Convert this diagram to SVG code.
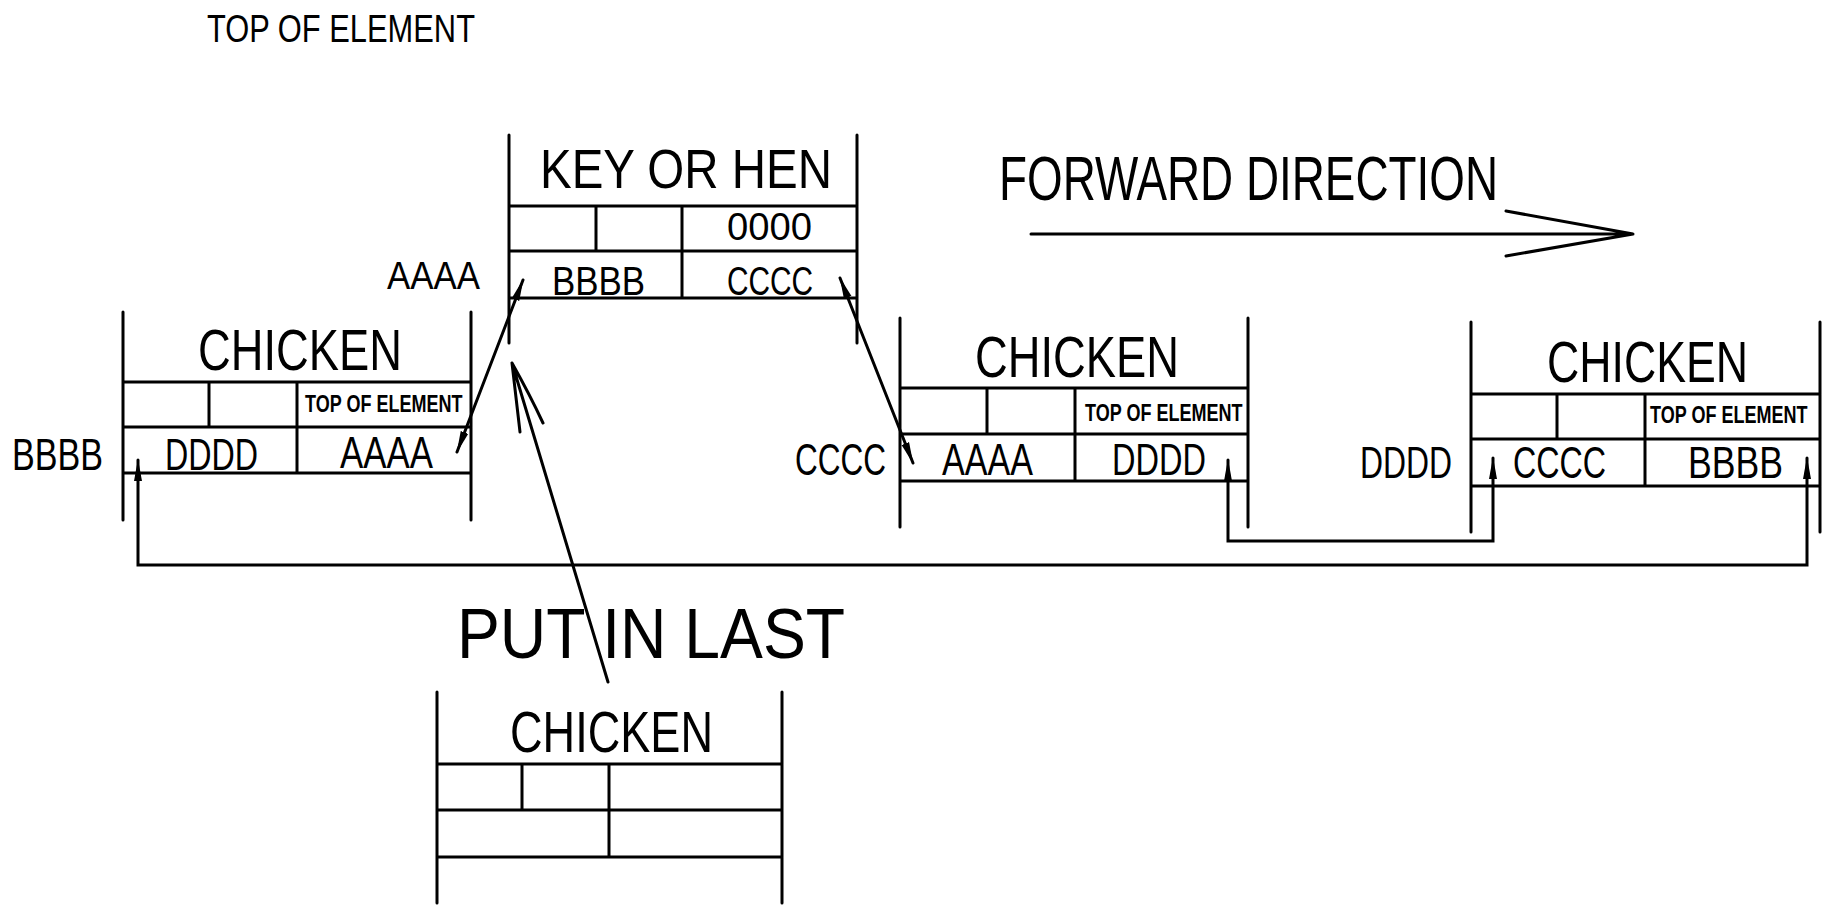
<svg xmlns="http://www.w3.org/2000/svg" width="1823" height="907" viewBox="0 0 1823 907">
<style>
  .ln { stroke:#000; stroke-width:3; fill:none; stroke-linecap:round; }
  .t { font-family:"Liberation Sans","DejaVu Sans",sans-serif; fill:#000; }
  .big { font-size:58px; }
  .mid { font-size:45px; }
  .sm { font-size:24px; font-weight:bold; }
</style>
<defs>
  <marker id="ah" viewBox="0 0 22 10" refX="21" refY="5" markerWidth="22" markerHeight="10" markerUnits="userSpaceOnUse" orient="auto-start-reverse">
    <path d="M0,1 L22,5 L0,9 Z" fill="#000"/>
  </marker>
</defs>
<rect width="1823" height="907" fill="#fff"/>

<g id="title">
  <text class="t" x="207" y="42" font-size="38" textLength="268" lengthAdjust="spacingAndGlyphs">TOP OF ELEMENT</text>
</g>

<g id="key-or-hen">
  <path class="ln" d="M509,135 V343 M857,135 V343 M509,206 H857 M509,251 H857 M509,298 H857 M596,206 V251 M682,206 V298"/>
  <text class="t" x="540" y="188" font-size="56" textLength="292" lengthAdjust="spacingAndGlyphs">KEY OR HEN</text>
  <text class="t" x="727" y="240" font-size="39" textLength="85" lengthAdjust="spacingAndGlyphs">0000</text>
  <text class="t" x="552" y="295" font-size="41" textLength="93" lengthAdjust="spacingAndGlyphs">BBBB</text>
  <text class="t" x="727" y="295" font-size="41" textLength="86" lengthAdjust="spacingAndGlyphs">CCCC</text>
  <text class="t" x="387" y="289" font-size="38" textLength="93" lengthAdjust="spacingAndGlyphs">AAAA</text>
</g>

<g id="chicken-1">
  <path class="ln" d="M123,312 V520 M471,312 V520 M123,382 H471 M123,427 H471 M123,473 H471 M209,382 V427 M297,382 V473"/>
  <text class="t big" x="198" y="370" textLength="204" lengthAdjust="spacingAndGlyphs">CHICKEN</text>
  <text class="t sm" transform="translate(305,412) scale(0.75,1)" textLength="210" lengthAdjust="spacingAndGlyphs">TOP OF ELEMENT</text>
  <text class="t mid" x="165" y="470" textLength="93" lengthAdjust="spacingAndGlyphs">DDDD</text>
  <text class="t mid" x="340" y="468" textLength="93" lengthAdjust="spacingAndGlyphs">AAAA</text>
  <text class="t mid" x="12" y="470" textLength="91" lengthAdjust="spacingAndGlyphs">BBBB</text>
</g>

<g id="chicken-2">
  <path class="ln" d="M900,318 V527 M1248,318 V527 M900,388 H1248 M900,434 H1248 M900,481 H1248 M987,388 V434 M1075,388 V481"/>
  <text class="t big" x="975" y="377" textLength="204" lengthAdjust="spacingAndGlyphs">CHICKEN</text>
  <text class="t sm" transform="translate(1085,421) scale(0.75,1)" textLength="210" lengthAdjust="spacingAndGlyphs">TOP OF ELEMENT</text>
  <text class="t mid" x="942" y="475" textLength="91" lengthAdjust="spacingAndGlyphs">AAAA</text>
  <text class="t mid" x="1112" y="475" textLength="94" lengthAdjust="spacingAndGlyphs">DDDD</text>
  <text class="t mid" x="795" y="475" textLength="91" lengthAdjust="spacingAndGlyphs">CCCC</text>
</g>

<g id="chicken-3">
  <path class="ln" d="M1471,322 V532 M1820,322 V532 M1471,394 H1820 M1471,439 H1820 M1471,486 H1820 M1557,394 V439 M1645,394 V486"/>
  <text class="t big" x="1547" y="382" textLength="201" lengthAdjust="spacingAndGlyphs">CHICKEN</text>
  <text class="t sm" transform="translate(1650,423) scale(0.75,1)" textLength="210" lengthAdjust="spacingAndGlyphs">TOP OF ELEMENT</text>
  <text class="t mid" x="1513" y="478" textLength="93" lengthAdjust="spacingAndGlyphs">CCCC</text>
  <text class="t mid" x="1688" y="478" textLength="95" lengthAdjust="spacingAndGlyphs">BBBB</text>
  <text class="t mid" x="1360" y="478" textLength="92" lengthAdjust="spacingAndGlyphs">DDDD</text>
</g>

<g id="chicken-new">
  <path class="ln" d="M437,692 V903 M782,692 V903 M437,764 H782 M437,810 H782 M437,857 H782 M522,764 V810 M609,764 V857"/>
  <text class="t big" x="510" y="752" textLength="203" lengthAdjust="spacingAndGlyphs">CHICKEN</text>
</g>

<g id="labels">
  <text class="t" x="999" y="200" font-size="63" textLength="499" lengthAdjust="spacingAndGlyphs">FORWARD DIRECTION</text>
  <text class="t" x="457" y="658" font-size="70" textLength="388" lengthAdjust="spacingAndGlyphs">PUT IN LAST</text>
</g>

<g id="connectors">
  <path class="ln" d="M457,452 L523,280" marker-start="url(#ah)" marker-end="url(#ah)"/>
  <path class="ln" d="M840,278 L913,463" marker-start="url(#ah)" marker-end="url(#ah)"/>
  <path class="ln" d="M138,460 V565 H1807 V458" marker-start="url(#ah)" marker-end="url(#ah)"/>
  <path class="ln" d="M1228,460 V541 H1493 V458" marker-start="url(#ah)" marker-end="url(#ah)"/>
  <path class="ln" d="M608,682 L512,363 M512,363 L520,432 M512,363 Q530,395 543,423"/>
  <path class="ln" d="M1031,234 H1633 M1506,211 L1633,234 L1506,256"/>
</g>
</svg>
